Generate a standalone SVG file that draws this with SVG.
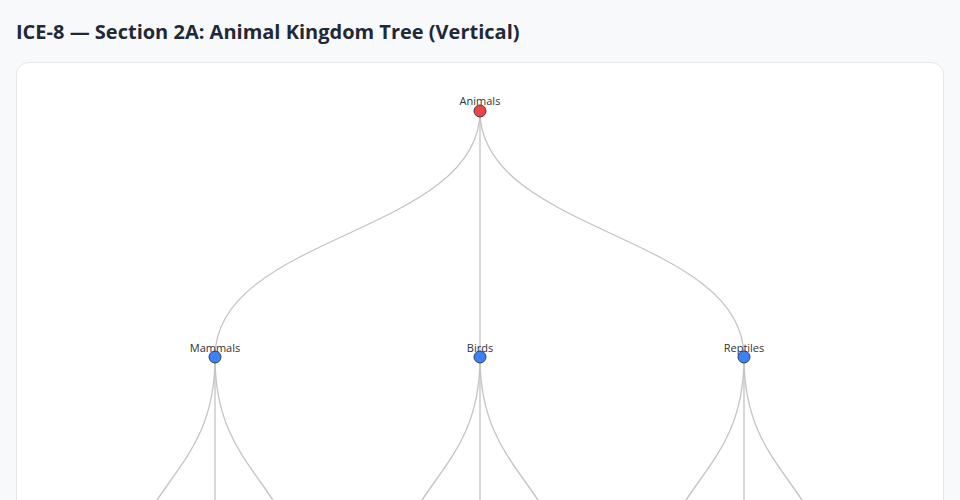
<svg xmlns="http://www.w3.org/2000/svg" width="960" height="500" viewBox="0 0 960 500">
<style>
.title{font-family:"Open Sans","Noto Sans",sans-serif;font-weight:700;font-size:20px;fill:#1f2937}
.link{fill:none;stroke:#c4c4c4;stroke-width:1.3}
.node circle{stroke:#374151;stroke-width:1}
.root{fill:#ef4444}
.inner{fill:#3b82f6}
.label{font-family:"Open Sans","Noto Sans",sans-serif;font-size:11px;fill:#333;text-anchor:middle}
</style>
<rect x="0" y="0" width="960" height="500" fill="#f8f9fb"/>
<text class="title" x="16" y="39">ICE-8 — Section 2A: Animal Kingdom Tree (Vertical)</text>
<rect x="16.5" y="62.5" width="927" height="480" rx="12" fill="#ffffff" stroke="#e5e7eb"/>
<g id="connectors">
<path class="link" d="M480,111C480,234 215,234 215,357"/>
<path class="link" d="M480,111C480,234 480,234 480,357"/>
<path class="link" d="M480,111C480,234 744,234 744,357"/>
<path class="link" d="M215,357C215,480 127,480 127,603"/>
<path class="link" d="M215,357C215,480 215,480 215,603"/>
<path class="link" d="M215,357C215,480 303,480 303,603"/>
<path class="link" d="M480,357C480,480 392,480 392,603"/>
<path class="link" d="M480,357C480,480 480,480 480,603"/>
<path class="link" d="M480,357C480,480 568,480 568,603"/>
<path class="link" d="M744,357C744,480 656,480 656,603"/>
<path class="link" d="M744,357C744,480 744,480 744,603"/>
<path class="link" d="M744,357C744,480 832,480 832,603"/>
</g>
<g id="node-animals" class="node"><circle class="root" cx="480" cy="111" r="6"/><text class="label" x="480" y="105">Animals</text></g>
<g id="node-mammals" class="node"><circle class="inner" cx="215" cy="357" r="6"/><text class="label" x="215" y="352">Mammals</text></g>
<g id="node-birds" class="node"><circle class="inner" cx="480" cy="357" r="6"/><text class="label" x="480" y="352">Birds</text></g>
<g id="node-reptiles" class="node"><circle class="inner" cx="744" cy="357" r="6"/><text class="label" x="744" y="352">Reptiles</text></g>
</svg>
